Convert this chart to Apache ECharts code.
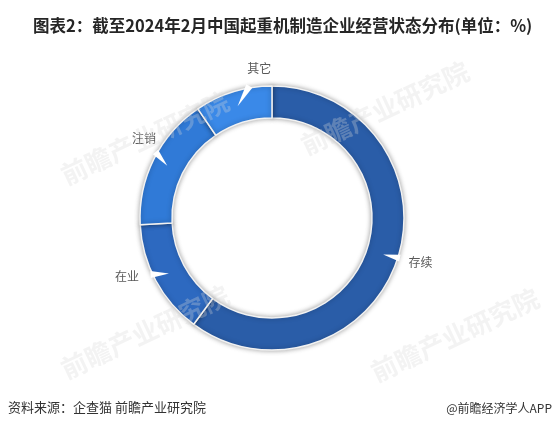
<!DOCTYPE html>
<html>
<head>
<meta charset="utf-8">
<script src="https://cdn.jsdelivr.net/npm/echarts@6/dist/echarts.min.js"></script>
<style>
html,body{margin:0;padding:0;background:#fff;}
#chart{width:555px;height:430px;}
</style>
</head>
<body>
<div id="chart"></div>
<script>
const categories = ['存续', '在业', '注销', '其它'];
const values = [60.1, 14.1, 16.3, 9.5];
const colors = ['#2a5da8', '#2d69c0', '#307ad7', '#3a89e8'];

const titleText = '图表2：截至2024年2月中国起重机制造企业经营状态分布(单位：%)';
const sourceText = '资料来源：企查猫 前瞻产业研究院';
const brandText = '@前瞻经济学人APP';
const watermarkText = '前瞻产业研究院';

const CX = 272, CY = 218, R_IN = 100, R_OUT = 132;
const LABEL_R = 152;
const labelNudge = [[4, -3], [-11, -14], [8, -12], [32, -4]];

const total = values.reduce((a, b) => a + b, 0);
const midAngles = [];
(function () {
  let acc = 0;
  values.forEach(v => {
    const a = v / total * 360;
    midAngles.push(acc + a / 2);
    acc += a;
  });
})();

function polar(r, deg) {
  const rad = deg * Math.PI / 180;
  return [CX + r * Math.sin(rad), CY - r * Math.cos(rad)];
}
function labelPos(i) {
  const p = polar(LABEL_R, midAngles[i]);
  return [p[0] + labelNudge[i][0], p[1] + labelNudge[i][1]];
}
// white pointer wedge: tip inside the ring at the slice's mid angle, opening toward the label
function pointer(i) {
  const T = polar(117, midAngles[i]);
  const L = labelPos(i);
  let dx = L[0] - T[0], dy = L[1] - T[1];
  const len = Math.hypot(dx, dy); dx /= len; dy /= len;
  const ox = T[0] - CX, oy = T[1] - CY, R = R_OUT + 2;
  const b = ox * dx + oy * dy, c = ox * ox + oy * oy - R * R;
  const t = -b + Math.sqrt(b * b - c);
  const B = [T[0] + t * dx, T[1] + t * dy];
  const nx = -dy, ny = dx, w = 3.5;
  return {
    type: 'polygon', z: 50, silent: true,
    shape: {points: [T, [B[0] + nx * w, B[1] + ny * w], [B[0] - nx * w, B[1] - ny * w]]},
    style: {fill: '#ffffff'}
  };
}

const chart = echarts.init(document.getElementById('chart'), null, {renderer: 'canvas'});
const FONT = '"Noto Sans CJK SC", "Microsoft YaHei", sans-serif';

function wm(x, y) {
  return {
    type: 'text', x: x, y: y, rotation: 0.44, z: 40, silent: true,
    style: {text: watermarkText, font: 'bold 26px ' + FONT, fill: 'rgba(215,215,215,0.3)', align: 'center', verticalAlign: 'middle'}
  };
}

const pieData = categories.map((c, i) => ({name: c, value: values[i], itemStyle: {color: colors[i]}}));

chart.setOption({
  backgroundColor: '#ffffff',
  animation: false,
  title: {
    text: titleText,
    left: 28,
    top: 12,
    textStyle: {fontFamily: FONT, fontSize: 16.5, fontWeight: 'bold', color: '#262626'}
  },
  graphic: [
    wm(385, 108), wm(455, 335), wm(145, 138), wm(145, 332),
    pointer(0), pointer(1), pointer(2), pointer(3),
    {type: 'text', left: 8, top: 401, style: {text: sourceText, font: '13px ' + FONT, fill: '#333'}},
    {type: 'text', right: 3, top: 402, style: {text: brandText, font: '12px ' + FONT, fill: '#333'}}
  ],
  series: [{
    type: 'pie',
    z: 2,
    center: [CX, CY],
    radius: [R_IN, R_OUT],
    startAngle: 90,
    clockwise: true,
    data: pieData,
    itemStyle: {
      borderColor: '#f2f2f2',
      borderWidth: 1.5,
      shadowBlur: 5,
      shadowColor: 'rgba(0,0,0,0.35)'
    },
    label: {
      show: true,
      formatter: '{b}',
      fontFamily: FONT,
      fontSize: 12,
      color: '#595959'
    },
    labelLine: {show: false},
    labelLayout: function (params) {
      const p = labelPos(params.dataIndex);
      return {x: p[0], y: p[1], align: 'center', verticalAlign: 'middle'};
    },
    emphasis: {disabled: true},
    silent: true
  }]
});
</script>
</body>
</html>
